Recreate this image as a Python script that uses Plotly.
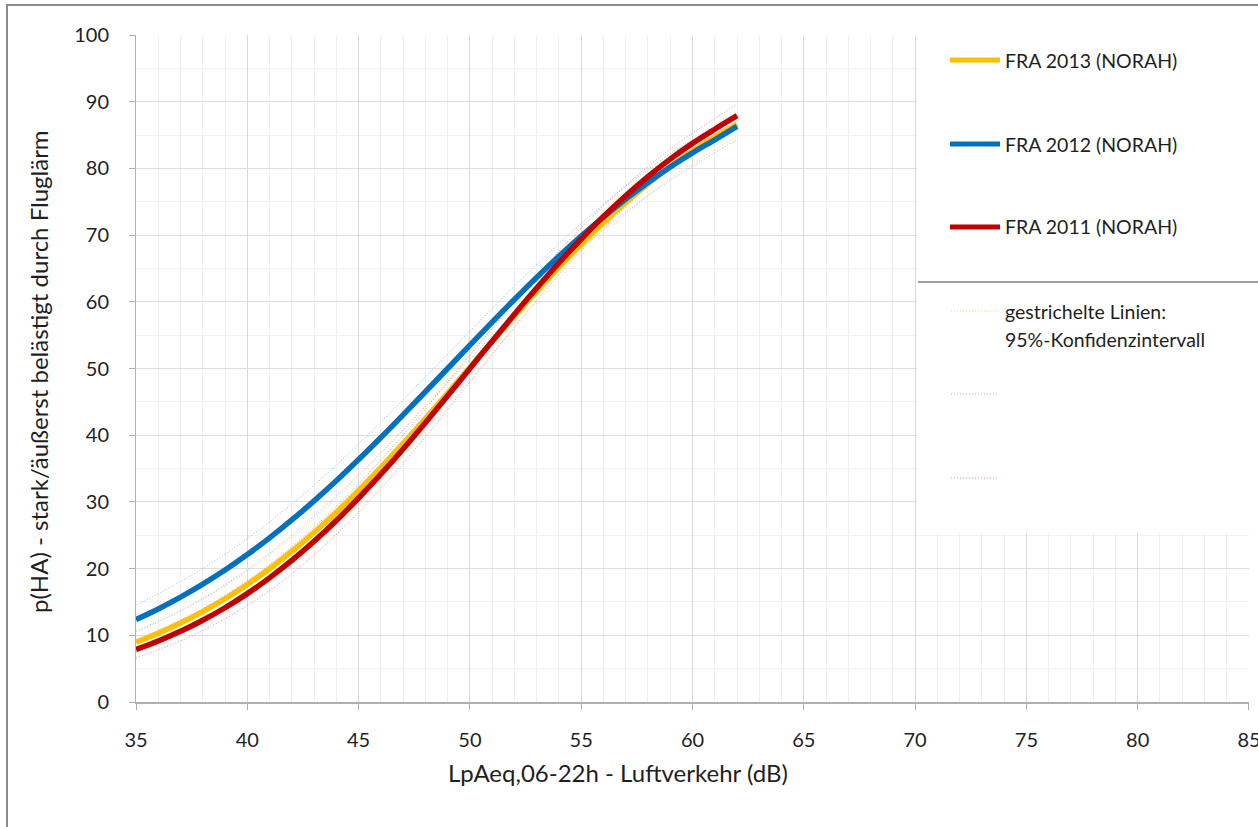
import plotly.graph_objects as go

# ---------------- data ----------------
x_main = list(range(35, 63))

fra2013 = [8.97, 10.32, 11.85, 13.56, 15.48, 17.63, 19.99, 22.58, 25.41, 28.45,
           31.71, 35.16, 38.77, 42.51, 46.33, 50.2, 54.07, 57.88, 61.61, 65.21,
           68.63, 71.87, 74.89, 77.69, 80.27, 82.61, 84.72, 86.62]
fra2012 = [12.35, 13.94, 15.71, 17.66, 19.78, 22.10, 24.60, 27.29, 30.16, 33.18,
           36.35, 39.65, 43.05, 46.51, 50.0, 53.49, 56.95, 60.35, 63.65, 66.82,
           69.84, 72.71, 75.40, 77.90, 80.22, 82.34, 84.29, 86.30]
fra2011 = [7.87, 9.15, 10.60, 12.26, 14.13, 16.25, 18.61, 21.22, 24.09, 27.21,
           30.58, 34.16, 37.94, 41.87, 45.91, 50.0, 54.09, 58.13, 62.06, 65.84,
           69.42, 72.79, 75.91, 78.78, 81.39, 83.75, 85.87, 87.90]

x_ci = [35, 38, 41, 44, 47, 50, 53, 56, 59, 62]
fra2013_hi = [10.6, 15.4, 22.0, 30.5, 40.8, 52.1, 63.4, 73.6, 82.0, 88.6]
fra2013_lo = [7.5, 11.9, 18.1, 26.5, 36.8, 48.3, 59.8, 70.1, 78.5, 84.8]
fra2012_hi = [14.5, 20.0, 27.0, 35.5, 45.3, 55.6, 65.6, 74.6, 82.2, 88.0]
fra2012_lo = [10.5, 15.5, 22.3, 30.9, 40.8, 51.4, 61.7, 70.8, 78.2, 84.3]
fra2011_hi = [9.3, 14.0, 20.6, 29.3, 40.0, 52.0, 63.9, 74.4, 82.9, 89.6]
fra2011_lo = [6.6, 10.7, 16.7, 25.1, 35.8, 48.0, 60.2, 71.1, 79.8, 85.9]

series_names = ["FRA 2013 (NORAH)", "FRA 2012 (NORAH)", "FRA 2011 (NORAH)"]
ci_note = ["gestrichelte Linien:", "95%-Konfidenzintervall"]
x_title = "LpAeq,06-22h - Luftverkehr (dB)"
y_title = "p(HA) - stark/äußerst belästigt durch Fluglärm"

# ---------------- styling ----------------
YEL, BLU, RED = "#FFC000", "#0070C0", "#C00000"
YEL_CI, BLU_CI, RED_CI = "#FFD966", "#8DBBE3", "#EE8C8C"
FONT = "Lato"
TXT = "#1f1f1f"

W, H = 1258, 827
L, R, T, B = 136, 9, 35, 125
PW, PH = W - L - R, H - T - B


def px(xp):
    return (xp - L) / PW


def py(yp):
    return (H - B - yp) / PH


fig = go.Figure()

for xs, ys, c in [(x_ci, fra2013_hi, YEL_CI), (x_ci, fra2013_lo, YEL_CI),
                  (x_ci, fra2012_hi, BLU_CI), (x_ci, fra2012_lo, BLU_CI),
                  (x_ci, fra2011_hi, RED_CI), (x_ci, fra2011_lo, RED_CI)]:
    fig.add_trace(go.Scatter(x=xs, y=ys, mode="lines", showlegend=False,
                             line=dict(color=c, width=1, dash="1px,2px", shape="spline", smoothing=1.0),
                             hoverinfo="skip"))

for ys, c, n in [(fra2013, YEL, series_names[0]), (fra2012, BLU, series_names[1]),
                 (fra2011, RED, series_names[2])]:
    fig.add_trace(go.Scatter(x=x_main, y=ys, mode="lines", name=n, showlegend=False,
                             line=dict(color=c, width=5.5, shape="spline", smoothing=1.0)))

shapes = []
# outer chart border
shapes.append(dict(type="rect", xref="paper", yref="paper",
                   x0=px(7), x1=px(1270), y0=py(5), y1=py(840),
                   line=dict(color="#8c8c8c", width=2), fillcolor="rgba(0,0,0,0)", layer="above"))
# white legend box covering the grid
shapes.append(dict(type="rect", xref="paper", yref="paper",
                   x0=px(917), x1=px(1257), y0=py(20), y1=py(533),
                   line=dict(width=0), fillcolor="white", layer="above"))
# legend solid lines
for yp, c in [(60, YEL), (144, BLU), (227, RED)]:
    shapes.append(dict(type="line", xref="paper", yref="paper",
                       x0=px(950), x1=px(1000), y0=py(yp), y1=py(yp),
                       line=dict(color=c, width=5), layer="above"))
# separator
shapes.append(dict(type="line", xref="paper", yref="paper",
                   x0=px(918), x1=px(1258), y0=py(282), y1=py(282),
                   line=dict(color="#a0a0a0", width=2), layer="above"))
# legend dotted lines
for yp, c in [(311, YEL_CI), (394, BLU_CI), (478, RED_CI)]:
    shapes.append(dict(type="line", xref="paper", yref="paper",
                       x0=px(951), x1=px(999), y0=py(yp), y1=py(yp),
                       line=dict(color=c, width=1, dash="1px,2px"), layer="above"))

annotations = []
for yp, t in [(60, series_names[0]), (144, series_names[1]), (227, series_names[2]),
              (311, ci_note[0]), (339, ci_note[1])]:
    annotations.append(dict(text=t, xref="paper", yref="paper", x=px(1003), y=py(yp),
                            xanchor="left", yanchor="middle", showarrow=False,
                            font=dict(family=FONT, size=19.5, color=TXT)))
annotations.append(dict(text=x_title, xref="paper", yref="paper", x=px(618), y=py(772),
                        xanchor="center", yanchor="middle", showarrow=False,
                        font=dict(family=FONT, size=24, color=TXT)))
annotations.append(dict(text=y_title, xref="paper", yref="paper", x=px(38), y=py(372),
                        xanchor="center", yanchor="middle", showarrow=False, textangle=-90,
                        font=dict(family=FONT, size=24, color=TXT)))

fig.update_layout(
    width=W, height=H,
    margin=dict(l=L, r=R, t=T, b=B, autoexpand=False),
    paper_bgcolor="white", plot_bgcolor="white",
    shapes=shapes, annotations=annotations,
    showlegend=False,
    xaxis=dict(range=[35, 85.001], dtick=5, tick0=35, showgrid=True, gridcolor="#d9d9d9", gridwidth=1,
               minor=dict(dtick=1, showgrid=True, gridcolor="#efefef", gridwidth=1),
               showline=True, linecolor="#b0b0b0", linewidth=2,
               ticks="outside", ticklen=6, tickcolor="#b0b0b0", automargin=False,
               zeroline=False, ticklabelstandoff=13, ticklabeloverflow="allow",
               tickfont=dict(family=FONT, size=20, color=TXT)),
    yaxis=dict(range=[0, 100], dtick=10, tick0=0, showgrid=True, gridcolor="#dedede", gridwidth=1,
               minor=dict(dtick=5, showgrid=True, gridcolor="#f2f2f2", gridwidth=1),
               showline=True, linecolor="#b0b0b0", linewidth=1, automargin=False,
               ticks="outside", ticklen=6, tickcolor="#b0b0b0",
               zeroline=False, ticklabelstandoff=16,
               tickfont=dict(family=FONT, size=20, color=TXT)),
)

fig.write_html("out.html")
